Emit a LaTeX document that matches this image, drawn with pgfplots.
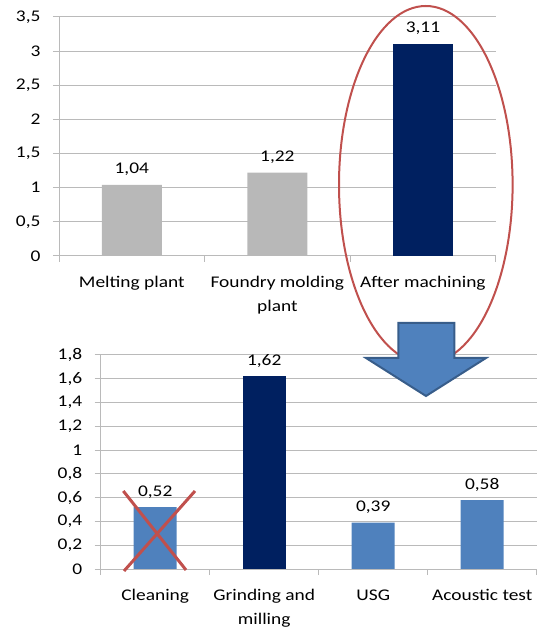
\documentclass[border=0pt]{standalone}
\usepackage{fontspec}
\setmainfont{Carlito}[FakeStretch=1.19]
\usepackage{pgfplots}
\pgfplotsset{compat=1.18}
\definecolor{barGray}{RGB}{184,184,184}
\definecolor{navy}{RGB}{0,32,96}
\definecolor{xlBlue}{RGB}{79,129,189}
\definecolor{xlBlueDark}{RGB}{56,93,138}
\definecolor{xlRed}{RGB}{192,80,77}
\definecolor{gridGray}{RGB}{186,186,186}
\begin{document}
\begin{tikzpicture}[font=\fontsize{16.3bp}{19bp}\selectfont]
\path[use as bounding box] (0,0) rectangle (539bp,628bp);
\pgfplotsset{
 excelbar/.style={
  scale only axis, anchor=south west,
  axis x line*=bottom, axis y line*=left,
  axis line style={gridGray, line width=1bp},
  ymajorgrids, grid style={gridGray, line width=1bp},
  tick align=outside, major tick length=6bp, minor tick length=6bp,
  tick style={gridGray, line width=1bp},
  every major x tick/.append style={draw=none},
  ymin=0, xmin=-0.5,
  /pgf/number format/use comma,
  /pgf/number format/assume math mode=true,
  every tick label/.append style={font=\fontsize{16.3bp}{19bp}\selectfont},
  yticklabel style={xshift=-9bp},
  xticklabel style={align=center, yshift=-11bp, font=\fontsize{16.3bp}{24bp}\selectfont},
  nodes near coords, point meta=y,
  every node near coord/.append style={/pgf/number format/.cd, fixed, fixed zerofill, precision=2, use comma, assume math mode=true, /tikz/.cd, font=\fontsize{16.3bp}{19bp}\selectfont, anchor=base, yshift=11bp, text=black},
 }
}
% Top chart
\begin{axis}[excelbar,
  at={(59bp,372bp)}, width=436.7bp, height=239bp,
  xmax=2.5, ymax=3.5, ytick={0,0.5,...,3.5},
  xtick={0,1,2},
  xticklabels={Melting plant, Foundry molding\\plant, After machining},
  minor xtick={-0.5,0.5,1.5,2.5},
  ]
\addplot[ybar, bar width=60bp, bar shift=0pt, fill=barGray, draw=none] coordinates {(0,1.04) (1,1.22)};
\addplot[ybar, bar width=60bp, bar shift=0pt, fill=navy, draw=none] coordinates {(2,3.11)};
\end{axis}
% Bottom chart
\begin{axis}[excelbar,
  at={(100.7bp,59bp)}, width=436bp, height=214bp,
  xmax=3.5, ymax=1.8, ytick={0,0.2,...,1.8},
  xtick={0,1,2,3},
  xticklabels={Cleaning, Grinding and\\milling, USG, Acoustic test},
  minor xtick={-0.5,0.5,1.5,2.5,3.5},
  ]
\addplot[ybar, bar width=43bp, bar shift=0pt, fill=xlBlue, draw=none] coordinates {(0,0.52) (2,0.39) (3,0.58)};
\addplot[ybar, bar width=43bp, bar shift=0pt, fill=navy, draw=none] coordinates {(1,1.62)};
\end{axis}
% annotations
\draw[xlRed, line width=2bp] (425.8bp,443.3bp) ellipse [x radius=86.8bp, y radius=178.7bp];
\draw[xlRed, line width=3bp] (123.3bp,137bp) -- (186bp,58bp);
\draw[xlRed, line width=3bp] (195bp,137bp) -- (124bp,57bp);
\draw[xlBlueDark, fill=xlBlue, line width=2bp, line join=miter]
  (398.3bp,305bp) -- (454.3bp,305bp) -- (454.3bp,270bp) -- (486bp,270bp)
  -- (426bp,232bp) -- (366bp,270bp) -- (398.3bp,270bp) -- cycle;
\end{tikzpicture}
\end{document}
